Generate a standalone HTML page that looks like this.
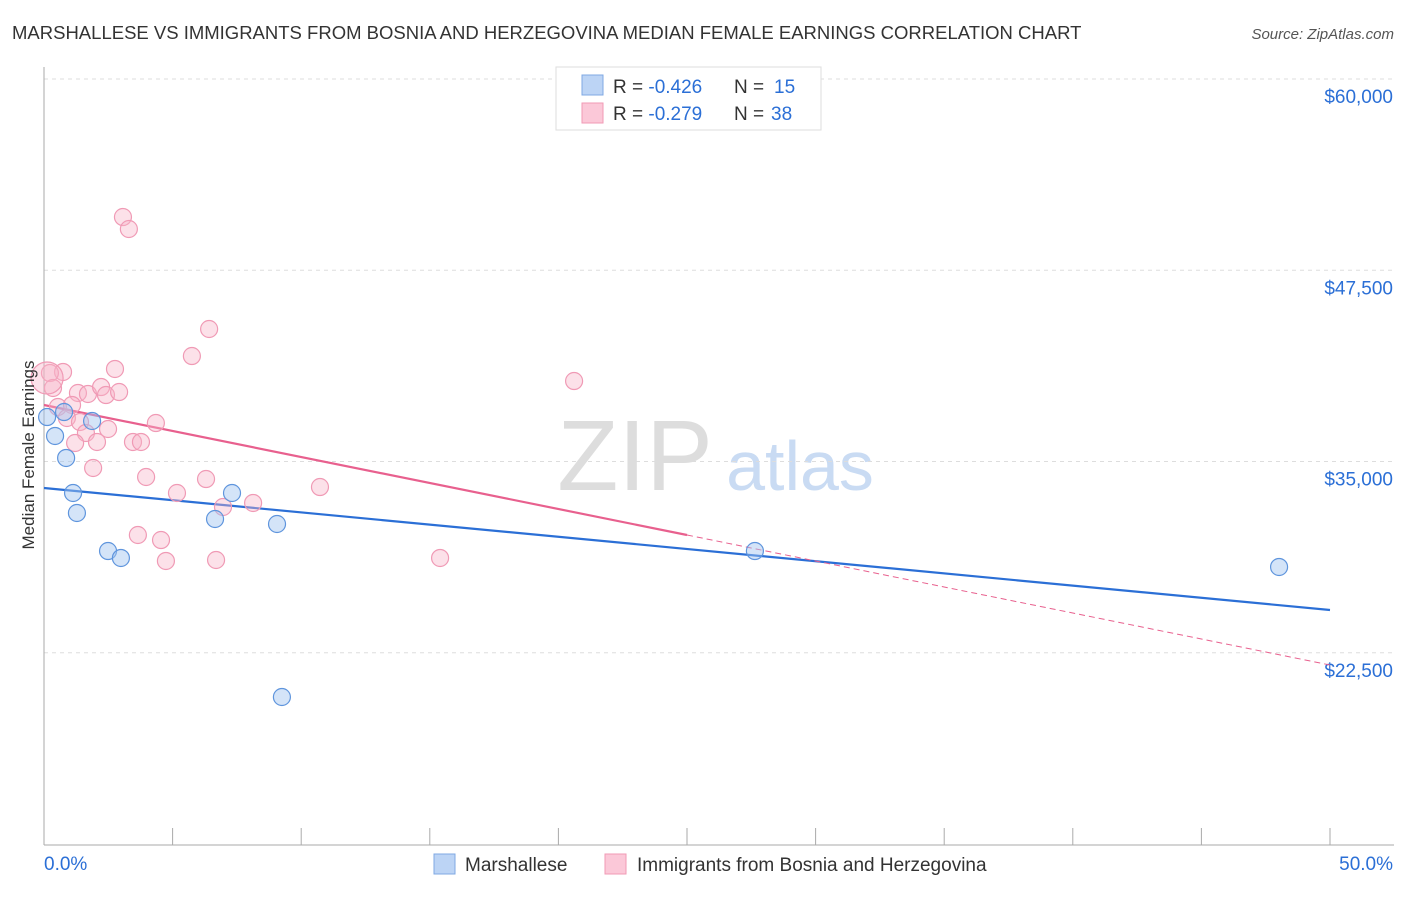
<!DOCTYPE html>
<html><head><meta charset="utf-8"><style>
body{margin:0;background:#fff;font-family:"Liberation Sans",sans-serif;}
svg text{font-family:"Liberation Sans",sans-serif;}
</style></head><body>
<svg id="chart" width="1406" height="892">
<text x="12" y="39" font-size="18.5" fill="#333">MARSHALLESE VS IMMIGRANTS FROM BOSNIA AND HERZEGOVINA MEDIAN FEMALE EARNINGS CORRELATION CHART</text>
<text x="1394" y="39" font-size="15" fill="#555" font-style="italic" text-anchor="end">Source: ZipAtlas.com</text>
<g>
<text x="635" y="490" font-size="100" fill="#ddd" font-family="Liberation Serif" text-anchor="middle">ZIP</text>
<text x="800" y="490" font-size="70" fill="#c9dbf3" text-anchor="middle">atlas</text>
</g>
<g id="grid"></g>
<g id="axes"></g>
<g id="lines"></g>
<g id="pts"></g>
<text transform="translate(34,455) rotate(-90)" font-size="17" fill="#333" text-anchor="middle">Median Female Earnings</text>
<g>
<rect x="556" y="67" width="265" height="63" fill="#fff" stroke="#ddd"/>
<rect x="582" y="75" width="21" height="20" fill="#bcd4f5" stroke="#7fa8e3"/>
<rect x="582" y="103" width="21" height="20" fill="#fbc8d8" stroke="#f09ab5"/>
<text x="613" y="93" font-size="19" fill="#333">R = <tspan fill="#2b6fd6">-0.426</tspan><tspan x="734">N = </tspan><tspan fill="#2b6fd6" x="774">15</tspan></text>
<text x="613" y="120" font-size="19" fill="#333">R = <tspan fill="#2b6fd6">-0.279</tspan><tspan x="734">N = </tspan><tspan fill="#2b6fd6" x="771">38</tspan></text>
</g>
<g>
<rect x="434" y="854" width="21" height="20" fill="#bcd4f5" stroke="#7fa8e3"/>
<text x="465" y="871" font-size="19" fill="#333">Marshallese</text>
<rect x="605" y="854" width="21" height="20" fill="#fbc8d8" stroke="#f09ab5"/>
<text x="637" y="871" font-size="19" fill="#333">Immigrants from Bosnia and Herzegovina</text>
</g>
</svg>
<script>
const yTicks=[60000,47500,35000,22500];
const yTickLabels=["$60,000","$47,500","$35,000","$22,500"];
const xTicks=[0,5,10,15,20,25,30,35,40,45,50];
const blueX=[0.12,0.43,0.78,0.86,1.13,1.28,1.87,2.49,2.99,6.65,7.31,9.06,9.25,27.64,48.02];
const blueY=[37908,36667,38235,35229,32941,31634,37647,29150,28693,31242,32941,30915,19608,29150,28105];
const pinkX=[3.07,3.30,6.42,5.75,0.74,2.76,0.23,0.35,1.32,1.71,2.22,2.41,2.92,0.54,1.09,0.89,1.40,1.63,2.49,4.35,1.21,2.06,3.46,3.77,1.91,3.97,6.30,5.17,6.96,8.13,10.73,3.65,4.55,4.74,6.69,20.61,15.40,0.12];
const pinkY=[50980,50196,43660,41895,40850,41046,40784,39804,39477,39412,39869,39346,39542,38562,38693,37843,37582,36863,37124,37516,36209,36275,36275,36275,34575,33987,33856,32941,32026,32288,33333,30196,29869,28497,28562,40261,28693,40458];
const blueTrend=[33268,25294];
const pinkTrend=[38693,21699];
const pinkSolidEnd=25;
const NS="http://www.w3.org/2000/svg";
const X=p=>44+p*25.72;
const Y=v=>79+(60000-v)*0.0153;
function mk(tag,attrs,parent){const e=document.createElementNS(NS,tag);for(const k in attrs)e.setAttribute(k,attrs[k]);document.getElementById(parent).appendChild(e);return e;}
yTicks.forEach((v,i)=>{
 const g=mk('line',{x1:44,x2:1394,y1:Y(v),y2:Y(v),stroke:'#ddd','stroke-dasharray':'4,4'},'grid');
 
 
 const t=mk('text',{x:1393,y:Y(v)+24,'font-size':19,fill:'#2b6fd6','text-anchor':'end'},'axes');
 t.textContent=yTickLabels[i];
 
 
});
const ax=mk('line',{x1:44,x2:44,y1:67,y2:845,stroke:'#aaa'},'axes');


const bx=mk('line',{x1:44,x2:1394,y1:845,y2:845,stroke:'#aaa'},'axes');


xTicks.forEach(p=>{
 const t=mk('line',{x1:X(p),x2:X(p),y1:828,y2:845,stroke:'#aaa'},'axes');
 
 
});
const l0=mk('text',{x:44,y:870,'font-size':19,fill:'#2b6fd6'},'axes');l0.textContent=xTicks[0].toFixed(1)+'%';


const l1=mk('text',{x:1393,y:870,'font-size':19,fill:'#2b6fd6','text-anchor':'end'},'axes');l1.textContent=xTicks[xTicks.length-1].toFixed(1)+'%';


function pts(xs,ys,fill,stroke,name){xs.forEach((x,i)=>{
 const r=(name==='pink-point'&&i===xs.length-1)?16:8.5;
 const c=mk('circle',{cx:X(x),cy:Y(ys[i]),r:r,fill:fill,stroke:stroke,'stroke-width':1.2},'pts');
 
 
});}
pts(pinkX,pinkY,'rgba(248,180,200,0.4)','#f09ab5','pink-point');
pts(blueX,blueY,'rgba(160,196,240,0.45)','#5f95dd','blue-point');
const bl=mk('line',{x1:X(0),y1:Y(blueTrend[0]),x2:X(50),y2:Y(blueTrend[1]),stroke:'#2b6fd6','stroke-width':2.2},'lines');


const pv=p=>pinkTrend[0]+(pinkTrend[1]-pinkTrend[0])*p/50;
const pl=mk('line',{x1:X(0),y1:Y(pinkTrend[0]),x2:X(pinkSolidEnd),y2:Y(pv(pinkSolidEnd)),stroke:'#e8608e','stroke-width':2.2},'lines');


const pd=mk('line',{x1:X(pinkSolidEnd),y1:Y(pv(pinkSolidEnd)),x2:X(50),y2:Y(pinkTrend[1]),stroke:'#e8608e','stroke-width':1,'stroke-dasharray':'6,4'},'lines');


</script>
</body></html>
